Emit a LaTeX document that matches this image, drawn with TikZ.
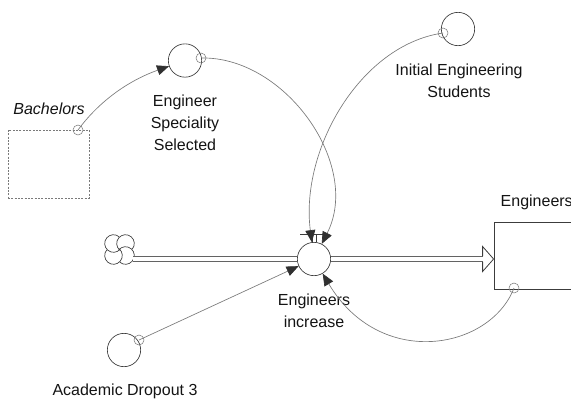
\documentclass[tikz,border=0pt]{standalone}
\usepackage{fontspec}
\setmainfont{Liberation Sans}
\usetikzlibrary{positioning, calc, shapes.geometric, arrows.meta}
\definecolor{linkgray}{HTML}{7A7A7A}
\definecolor{shapegray}{HTML}{3C3C3C}
\definecolor{headgray}{HTML}{303030}
\tikzstyle{Link} = [
%Create custom link style:
draw=linkgray, line width=0.5pt,
-{Triangle[length=9pt, width=7.5pt, color=headgray]}
]
\tikzstyle{Pipe} = [
draw=shapegray!80, line width=0.6pt, double=white, double distance=3pt
]

\begin{document}
\begin{tikzpicture}[
			x=0.75pt, y=0.75pt,
			every node/.style = {font=\fontsize{12}{16.5}\selectfont, text=black!92},
			aux/.style = {circle, draw=shapegray, line width=0.5pt, fill=white, minimum size=25pt, inner sep=0pt},
			tap/.style = {circle, draw=linkgray, line width=0.4pt, minimum size=7.5pt, inner sep=0pt},
			stockbox/.style = {rectangle, draw=shapegray, line width=0.6pt, fill=white, minimum width=75pt, minimum height=50.25pt},
			ghost/.style = {rectangle, draw=linkgray, line width=0.5pt, dash pattern=on 1.5pt off 1pt, minimum width=60.75pt, minimum height=51pt},
			caption/.style = {align=center},
		]
		\useasboundingbox (0,0) rectangle (571,-401);
		\clip (0,0) rectangle (571,-401);

		\node[ghost](BA) at (48.5,-164){};
		\node[caption, font=\fontsize{12}{16.5}\selectfont\itshape](BAt) at (49,-109){Bachelors};
		\node[tap](BAo) at (78,-130){};
		\node[aux](ESS) at (185,-60.5){};
		\node[tap](ESSo) at (201,-58){};
		\node[caption](ESSt) at (185,-123){Engineer\\Speciality\\Selected};
		\node[aux](IES) at (458,-29){};
		\node[tap](IESo) at (443,-33){};
		\node[caption](IESt) at (459,-81){Initial Engineering\\Students};
		\node[aux](AD) at (124,-350){};
		\node[tap](ADo) at (139,-340){};
		\node[caption](ADt) at (125,-391){Academic Dropout 3};
		\node[circle, minimum size=20pt, inner sep=0pt](CL) at (119.5,-249.5){};
		\node[aux](EI) at (314,-259){};
		\node[caption](EIt) at (314,-311){Engineers\\increase};
		\node[stockbox](EN) at (544,-255.5){};
		\node[caption, anchor=west](ENt) at (496,-202){Engineers};
		\node[tap](ENo) at (514,-288){};

		% cloud: four curled lobes
		\foreach \k in {0,90,180,270}
			\draw[shapegray, line width=0.5pt, shift={(CL.center)}, rotate=\k]($(6,6)+(-40:8.8)$) arc[start angle=-40, end angle=230, radius=8.8];

		% flow pipe with its valve
		\coordinate(TIP) at (EI -| EN.west);
		\draw[Pipe](CL.east |- EI)--(EI);
		\draw[Pipe, shorten >=8.25pt](EI)--(TIP);
		\draw[shapegray, line width=0.6pt]($(TIP)+(-11,2.8)$)--++(0,9.7)--(TIP)--++(-11,-12.5)--++(0,9.7);
		\draw[shapegray, line width=0.4pt]($(EI.north)+(-2,0)$)--++(0,7) ($(EI.north)+(2,0)$)--++(0,7);
		\draw[shapegray, line width=0.4pt, double=white, double distance=1.5pt]($(EI.north)+(-14,8.8)$)--++(26,0);

		\draw[Link](BAo.center)..controls(100,-100)and(130,-80)..(ESS);
		\draw[Link](ESSo.center)..controls(285,-56)and(362,-165)..(EI);
		\draw[Link](IESo.center)..controls(360,-45)and(300,-150)..(EI);
		\draw[Link](ENo.center)..controls(490,-350)and(380,-370)..(EI);
		\draw[Link](ADo.center)--(EI);

		\end{tikzpicture}
\end{document}
